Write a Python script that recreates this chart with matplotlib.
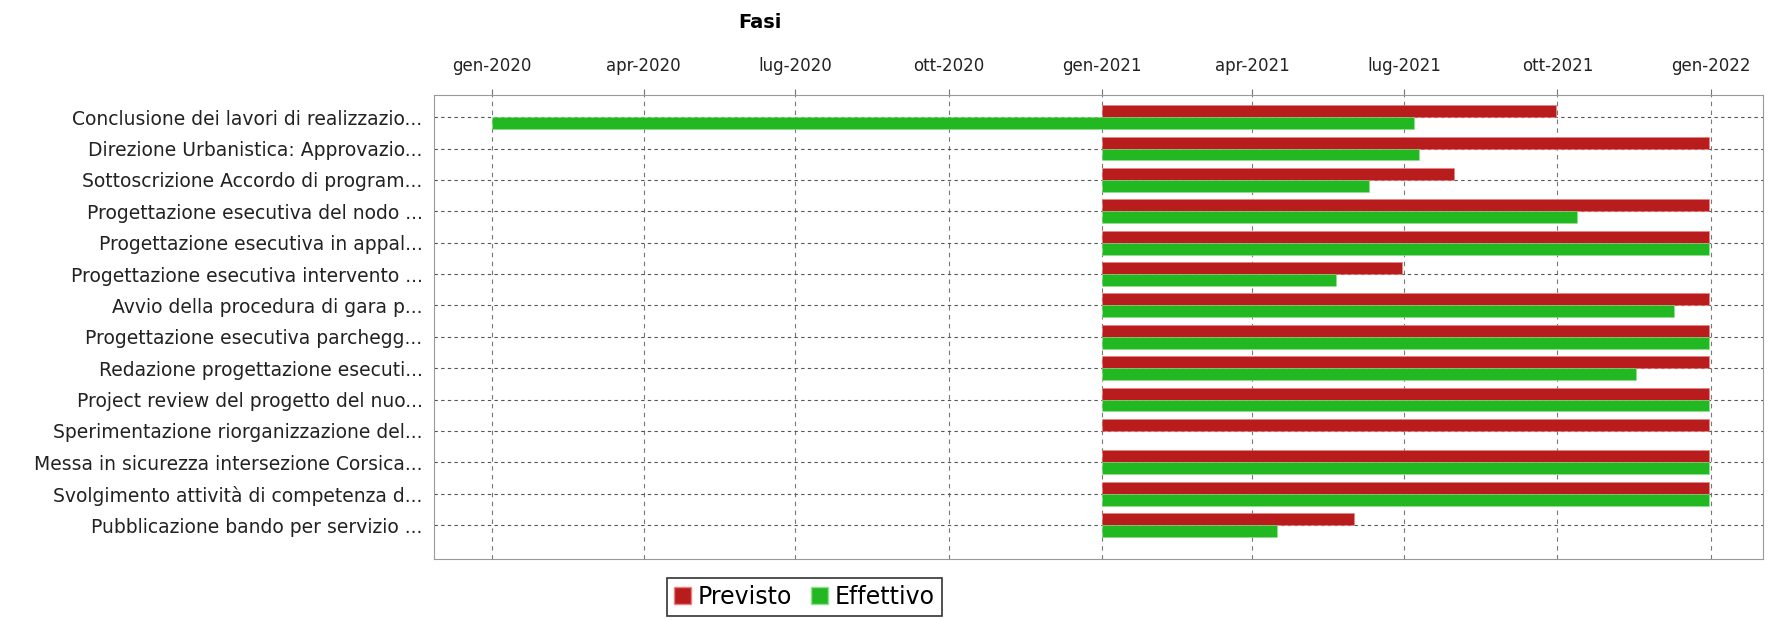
import matplotlib.pyplot as plt
import matplotlib.dates as mdates
from matplotlib.patches import Patch
import pandas as pd

# fasi (dall'alto verso il basso)
fasi = [
    "Conclusione dei lavori di realizzazio...",
    "Direzione Urbanistica: Approvazio...",
    "Sottoscrizione Accordo di program...",
    "Progettazione esecutiva del nodo ...",
    "Progettazione esecutiva in appal...",
    "Progettazione esecutiva intervento ...",
    "Avvio della procedura di gara p...",
    "Progettazione esecutiva parchegg...",
    "Redazione progettazione esecuti...",
    "Project review del progetto del nuo...",
    "Sperimentazione riorganizzazione del...",
    "Messa in sicurezza intersezione Corsica...",
    "Svolgimento attività di competenza d...",
    "Pubblicazione bando per servizio ...",
]

previsto_inizio = ["2021-01-01"] * 14
previsto_fine = [
    "2021-09-30", "2021-12-31", "2021-07-31", "2021-12-31", "2021-12-31",
    "2021-06-30", "2021-12-31", "2021-12-31", "2021-12-31", "2021-12-31",
    "2021-12-31", "2021-12-31", "2021-12-31", "2021-06-01",
]
effettivo_inizio = ["2020-01-01"] + ["2021-01-01"] * 13
effettivo_fine = [
    "2021-07-07", "2021-07-10", "2021-06-10", "2021-10-13", "2021-12-31",
    "2021-05-21", "2021-12-10", "2021-12-31", "2021-11-17", "2021-12-31",
    None, "2021-12-31", "2021-12-31", "2021-04-16",
]

tick_date = ["2020-01-01", "2020-04-01", "2020-07-01", "2020-10-01", "2021-01-01",
             "2021-04-01", "2021-07-01", "2021-10-01", "2022-01-01"]
tick_lab = ["gen-2020", "apr-2020", "lug-2020", "ott-2020", "gen-2021",
            "apr-2021", "lug-2021", "ott-2021", "gen-2022"]

RED = "#b81c1c"
GREEN = "#22b822"

def dn(s):
    return mdates.date2num(pd.Timestamp(s))

fig = plt.figure(figsize=(17.84, 6.2), dpi=100)
ax = fig.add_axes([0.243, 0.098, 0.745, 0.748])

h = 0.38
for i in range(len(fasi)):
    s = dn(previsto_inizio[i])
    ax.barh(i - h / 2, dn(previsto_fine[i]) - s, left=s, height=h,
            color=RED, edgecolor="#f08080", linewidth=0.4, zorder=3)
    if effettivo_fine[i] is not None:
        s = dn(effettivo_inizio[i])
        ax.barh(i + h / 2, dn(effettivo_fine[i]) - s, left=s, height=h,
                color=GREEN, edgecolor="#90e090", linewidth=0.4, zorder=3)

ax.set_yticks(range(len(fasi)))
ax.set_yticklabels(fasi, fontsize=13.5, color="#222222")
ax.set_ylim(len(fasi) - 1 + 1.09, -0.69)

ax.set_xticks([dn(d) for d in tick_date])
ax.set_xticklabels(tick_lab, fontsize=12, color="#222222")
ax.set_xlim(dn("2019-11-27"), dn("2022-02-01"))
ax.xaxis.tick_top()

ax.tick_params(axis="x", length=4, color="#777777", pad=11)
ax.tick_params(axis="y", length=0, pad=8)
ax.grid(axis="x", color="#777777", linestyle=(0, (4, 4)), linewidth=0.8, zorder=0)
ax.grid(axis="y", color="#555555", linestyle=(0, (3, 3)), linewidth=0.8, zorder=0)
for sp in ax.spines.values():
    sp.set_color("#999999")

fig.text(0.426, 0.963, "Fasi", fontsize=14, fontweight="bold", ha="center", va="center")

handles = [Patch(facecolor=RED, edgecolor="#f08080", label="Previsto"),
           Patch(facecolor=GREEN, edgecolor="#90e090", label="Effettivo")]
leg = fig.legend(handles=handles, loc="upper center", bbox_to_anchor=(0.451, 0.068),
                 ncol=2, fontsize=17, frameon=True, fancybox=False,
                 handlelength=0.7, handleheight=0.7, handletextpad=0.3,
                 columnspacing=0.8, borderpad=0.3, borderaxespad=0)
leg.get_frame().set_edgecolor("black")
leg.get_frame().set_linewidth(1.2)

fig.savefig("out.png", dpi=100)
